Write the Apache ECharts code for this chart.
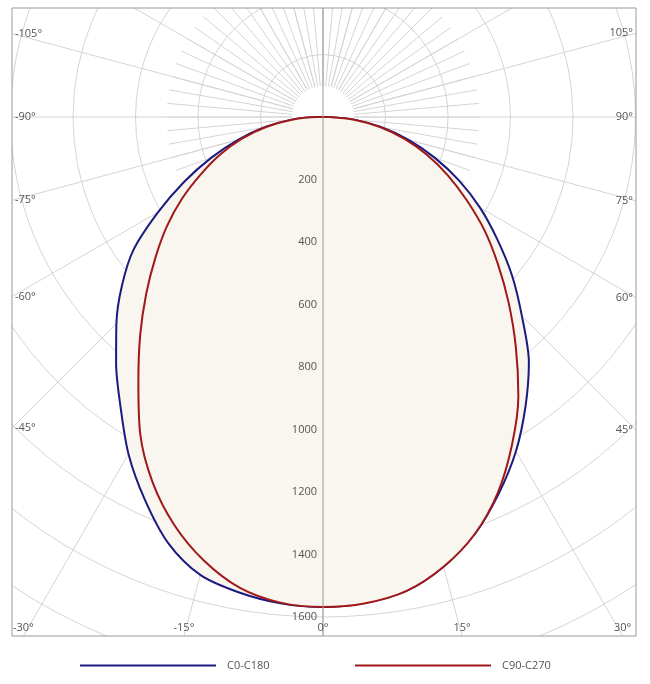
<!DOCTYPE html>
<html><head><meta charset="utf-8">
<script src="https://cdn.jsdelivr.net/npm/echarts@6/dist/echarts.min.js"></script>
<style>body{margin:0;background:#fff}#chart{width:650px;height:684px}</style>
</head><body><div id="chart"></div>
<script>
var angles = [0, 5, 10, 15, 20, 25, 30, 35, 40, 45, 50, 55, 60, 65, 70, 75, 80, 85, 90];
var c0 = [1568, 1562, 1545, 1517, 1450, 1350, 1245, 1130, 1030, 935, 840, 740, 610, 490, 380, 280, 190, 100, 20];
var c180 = [1568, 1560, 1540, 1490, 1420, 1330, 1235, 1130, 1025, 900, 790, 680, 580, 480, 380, 285, 190, 100, 20];
var c270 = [1568, 1560, 1530, 1470, 1390, 1290, 1170, 1030, 910, 800, 700, 610, 520, 430, 350, 270, 185, 100, 20];
var c90 = [1568, 1562, 1540, 1490, 1420, 1325, 1210, 1090, 960, 840, 730, 630, 530, 440, 355, 270, 185, 100, 20];
var radialTicks = [200, 400, 600, 800, 1000, 1200, 1400, 1600];
var leftAngles = [-105, -90, -75, -60, -45, -30, -15];
var rightAngles = [105, 90, 75, 60, 45, 30, 15];

var cx = 323, cy = 117, pxPer = 62.5 / 200;
var L = 12, R = 636, T = 8, B = 636;

// right half 90..0, then left half 0..90 as 360..270, closed back at right 90
function curve(left, right) {
    var pts = [];
    for (var i = angles.length - 1; i >= 0; i--) pts.push([right[i], angles[i]]);
    for (var j = 0; j < angles.length; j++) pts.push([left[j], 360 - angles[j]]);
    pts.push([right[angles.length - 1], angles[angles.length - 1]]);
    return pts;
}

var txt = {fill: '#555', fontSize: 11, fontFamily: 'Open Sans'};
var graphics = [
    {type: 'circle', shape: {cx: cx, cy: cy, r: 31}, style: {fill: '#fff'}, z: 1},
    {type: 'rect', shape: {x: 0, y: 0, width: 650, height: T}, style: {fill: '#fff'}, z: 50},
    {type: 'rect', shape: {x: 0, y: B, width: 650, height: 48}, style: {fill: '#fff'}, z: 50},
    {type: 'rect', shape: {x: 0, y: 0, width: L, height: 684}, style: {fill: '#fff'}, z: 50},
    {type: 'rect', shape: {x: R, y: 0, width: 14, height: 684}, style: {fill: '#fff'}, z: 50},
    {type: 'rect', shape: {x: L, y: T, width: R - L, height: B - T}, style: {fill: 'none', stroke: '#999', lineWidth: 1}, z: 51},
    {type: 'line', shape: {x1: cx, y1: T, x2: cx, y2: B}, style: {stroke: '#999', lineWidth: 1}, z: 8}
];
function edgeLabel(a) {
    var rad = Math.abs(a) * Math.PI / 180, s = a < 0 ? -1 : 1;
    var dx = s < 0 ? cx - L : R - cx;
    var y = cy + dx / Math.tan(rad), x = s < 0 ? L : R;
    var g = {type: 'text', z: 52, style: Object.assign({text: a + '°'}, txt)};
    if (y > B - 8) {
        x = cx + s * (B - cy) * Math.tan(rad);
        g.x = x; g.y = B - 3;
        g.style.textAlign = 'center'; g.style.textVerticalAlign = 'bottom';
    } else {
        g.x = x + (s < 0 ? 3 : -3); g.y = y;
        g.style.textAlign = s < 0 ? 'left' : 'right'; g.style.textVerticalAlign = 'middle';
    }
    graphics.push(g);
}
leftAngles.forEach(edgeLabel);
rightAngles.forEach(edgeLabel);
graphics.push({type: 'text', x: cx, y: B - 3, z: 52, style: Object.assign({text: '0°', textAlign: 'center', textVerticalAlign: 'bottom'}, txt)});
radialTicks.forEach(function (v) {
    graphics.push({type: 'text', x: cx - 6, y: cy + v * pxPer, z: 52,
        style: Object.assign({text: String(v), textAlign: 'right', textVerticalAlign: 'middle', fontSize: 12}, txt)});
});

var legendBase = {bottom: 8, itemWidth: 136, itemHeight: 2, icon: 'rect', z: 60,
    textStyle: {color: '#555', fontSize: 11, fontFamily: 'Open Sans', padding: [0, 0, 0, 6]}};

var chart = echarts.init(document.getElementById('chart'));
var polarCommon = {startAngle: 270, clockwise: false, type: 'value', min: 0, max: 360};
chart.setOption({
    animation: false,
    polar: [
        {center: [cx, cy], radius: 2400 * pxPer},
        {center: [cx, cy], radius: 500 * pxPer}
    ],
    angleAxis: [
        Object.assign({polarIndex: 0, interval: 15, axisLine: {show: false}, axisTick: {show: false},
            axisLabel: {show: false}, splitLine: {lineStyle: {color: '#d4d4d4', width: 1}}}, polarCommon),
        Object.assign({polarIndex: 1, interval: 5, axisLine: {show: false}, axisTick: {show: false},
            axisLabel: {show: false}, splitLine: {lineStyle: {color: '#d4d4d4', width: 1}}}, polarCommon)
    ],
    radiusAxis: [
        {polarIndex: 0, min: 0, max: 2400, interval: 200, axisLine: {show: false}, axisTick: {show: false},
            axisLabel: {show: false}, splitLine: {lineStyle: {color: '#d4d4d4'}}},
        {polarIndex: 1, min: 0, max: 500, axisLine: {show: false}, axisTick: {show: false},
            axisLabel: {show: false}, splitLine: {show: false}}
    ],
    legend: [
        Object.assign({left: 75, data: ['C0-C180']}, legendBase),
        Object.assign({left: 350, data: ['C90-C270']}, legendBase)
    ],
    series: [
        {name: 'C0-C180', type: 'line', coordinateSystem: 'polar', polarIndex: 0, data: curve(c0, c180),
            symbol: 'none', smooth: 0.3, z: 5, color: '#1a1a80', lineStyle: {width: 2, color: '#1a1a80'},
            areaStyle: {color: '#f9f5ef', opacity: 1}},
        {name: 'C90-C270', type: 'line', coordinateSystem: 'polar', polarIndex: 0, data: curve(c270, c90),
            symbol: 'none', smooth: 0.3, z: 6, color: '#a01818', lineStyle: {width: 2, color: '#a01818'},
            areaStyle: {color: '#f9f5ef', opacity: 1}}
    ],
    graphic: graphics
});
</script></body></html>
